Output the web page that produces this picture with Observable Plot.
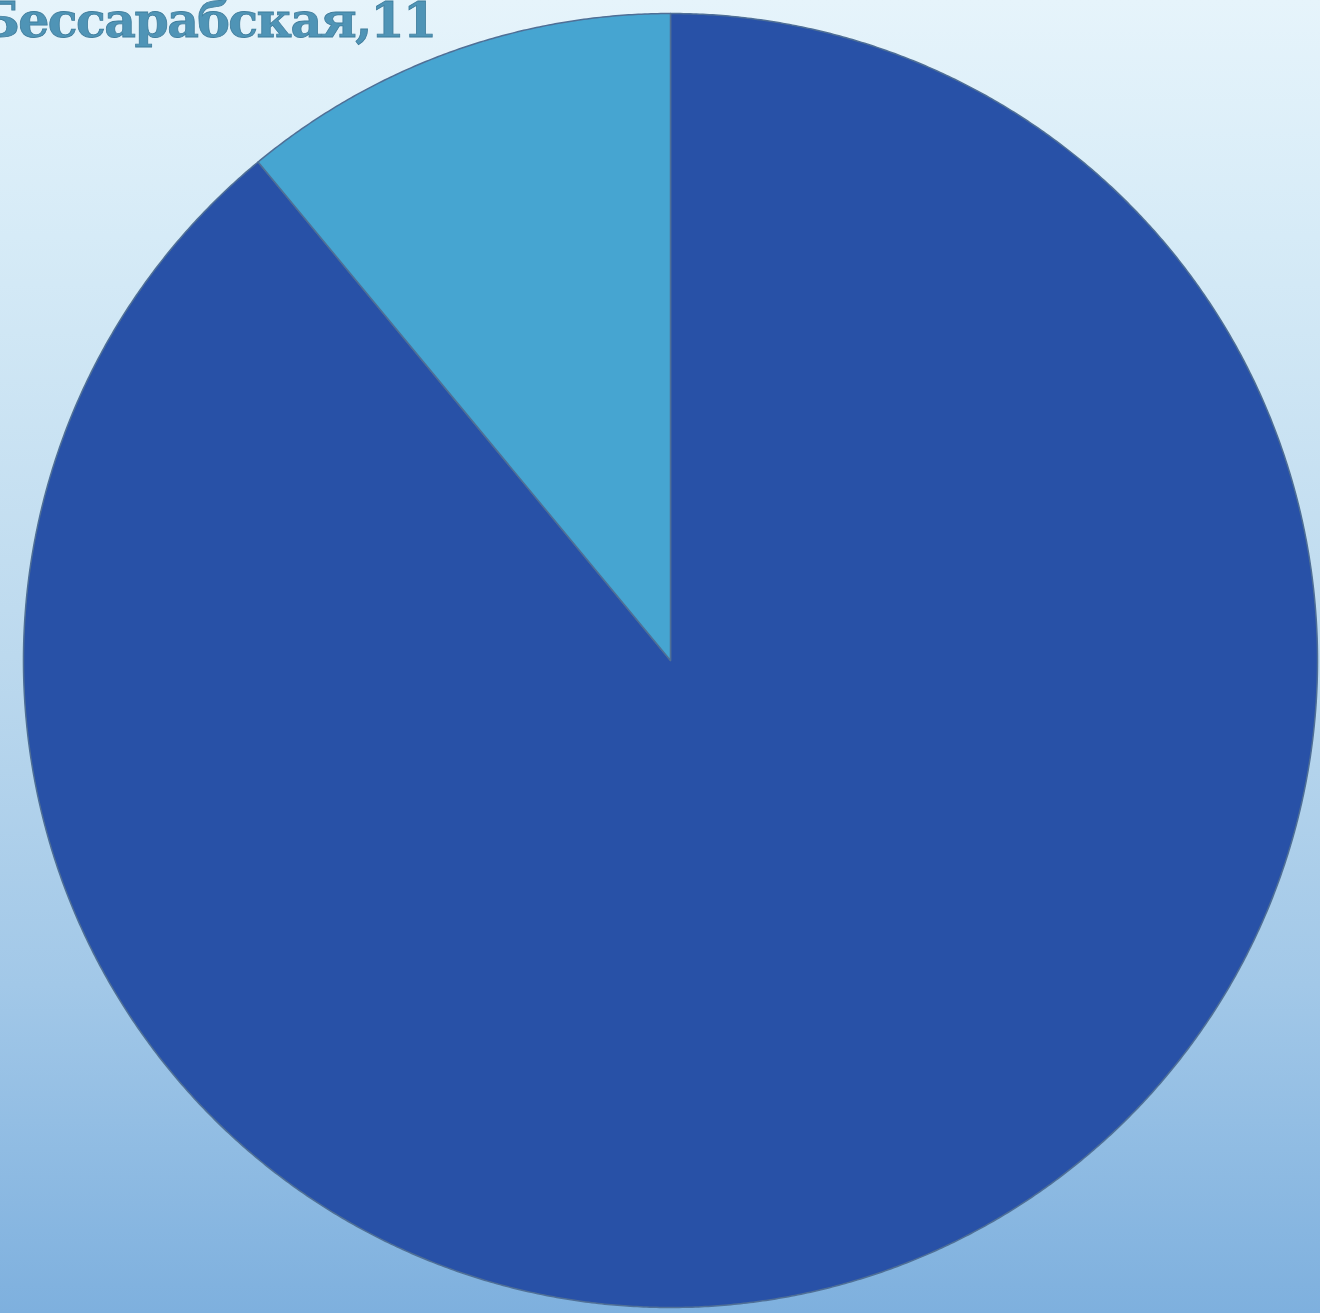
<!DOCTYPE html>
<html>
<head>
<meta charset="utf-8">
<script src="https://cdn.jsdelivr.net/npm/d3@7"></script>
<script src="https://cdn.jsdelivr.net/npm/@observablehq/plot@0.6"></script>
<style>
  html, body { margin: 0; padding: 0; }
  body { width: 1320px; height: 1313px; overflow: hidden; }
  #wrap {
    position: relative; width: 1320px; height: 1313px;
    background: linear-gradient(180deg, #e6f4fb 0%, #d6ebf7 18%, #bcd9ee 50%, #a2c8e8 75%, #7eb0de 100%);
  }
  #title {
    position: absolute; left: -22px; top: -9px;
    font-family: "DejaVu Serif", "Liberation Serif", serif; font-weight: bold;
    font-size: 49px; color: #4f94b6; letter-spacing: -1.6px;
    -webkit-text-stroke: 0.8px #3f7d9c; white-space: nowrap;
  }
  #chart { position: absolute; left: 0; top: 0; }
</style>
</head>
<body>
<div id="wrap">
  <div id="chart"></div>
  <div id="title">Бессарабская,11</div>
</div>
<script>
const categories = ["Основная часть", "Другое"];
const values = [89, 11];
const colors = ["#2851a7", "#46a5d1"];

const pie = d3.pie().sort(null).value(d => d.value)(categories.map((c, i) => ({category: c, value: values[i]})));
const pts = [];
for (const s of pie) {
  const n = Math.max(4, Math.ceil((s.endAngle - s.startAngle) / 0.005));
  pts.push({category: s.data.category, x: 0, y: 0});
  for (let k = 0; k <= n; k++) {
    const a = s.startAngle + (s.endAngle - s.startAngle) * k / n;
    pts.push({category: s.data.category, x: Math.sin(a), y: Math.cos(a)});
  }
}

const chart = Plot.plot({
  width: 1320, height: 1313,
  margin: 0,
  style: {background: "transparent", overflow: "visible"},
  x: {domain: [-1.0355, 1.0046], axis: null},
  y: {domain: [-1.0093, 1.0201], axis: null},
  color: {domain: categories, range: colors},
  marks: [
    Plot.line(pts, {x: "x", y: "y", z: "category", fill: "category", stroke: "#4f6f96", strokeWidth: 1.5, curve: "linear-closed"})
  ]
});
document.getElementById("chart").appendChild(chart);
</script>
</body>
</html>
